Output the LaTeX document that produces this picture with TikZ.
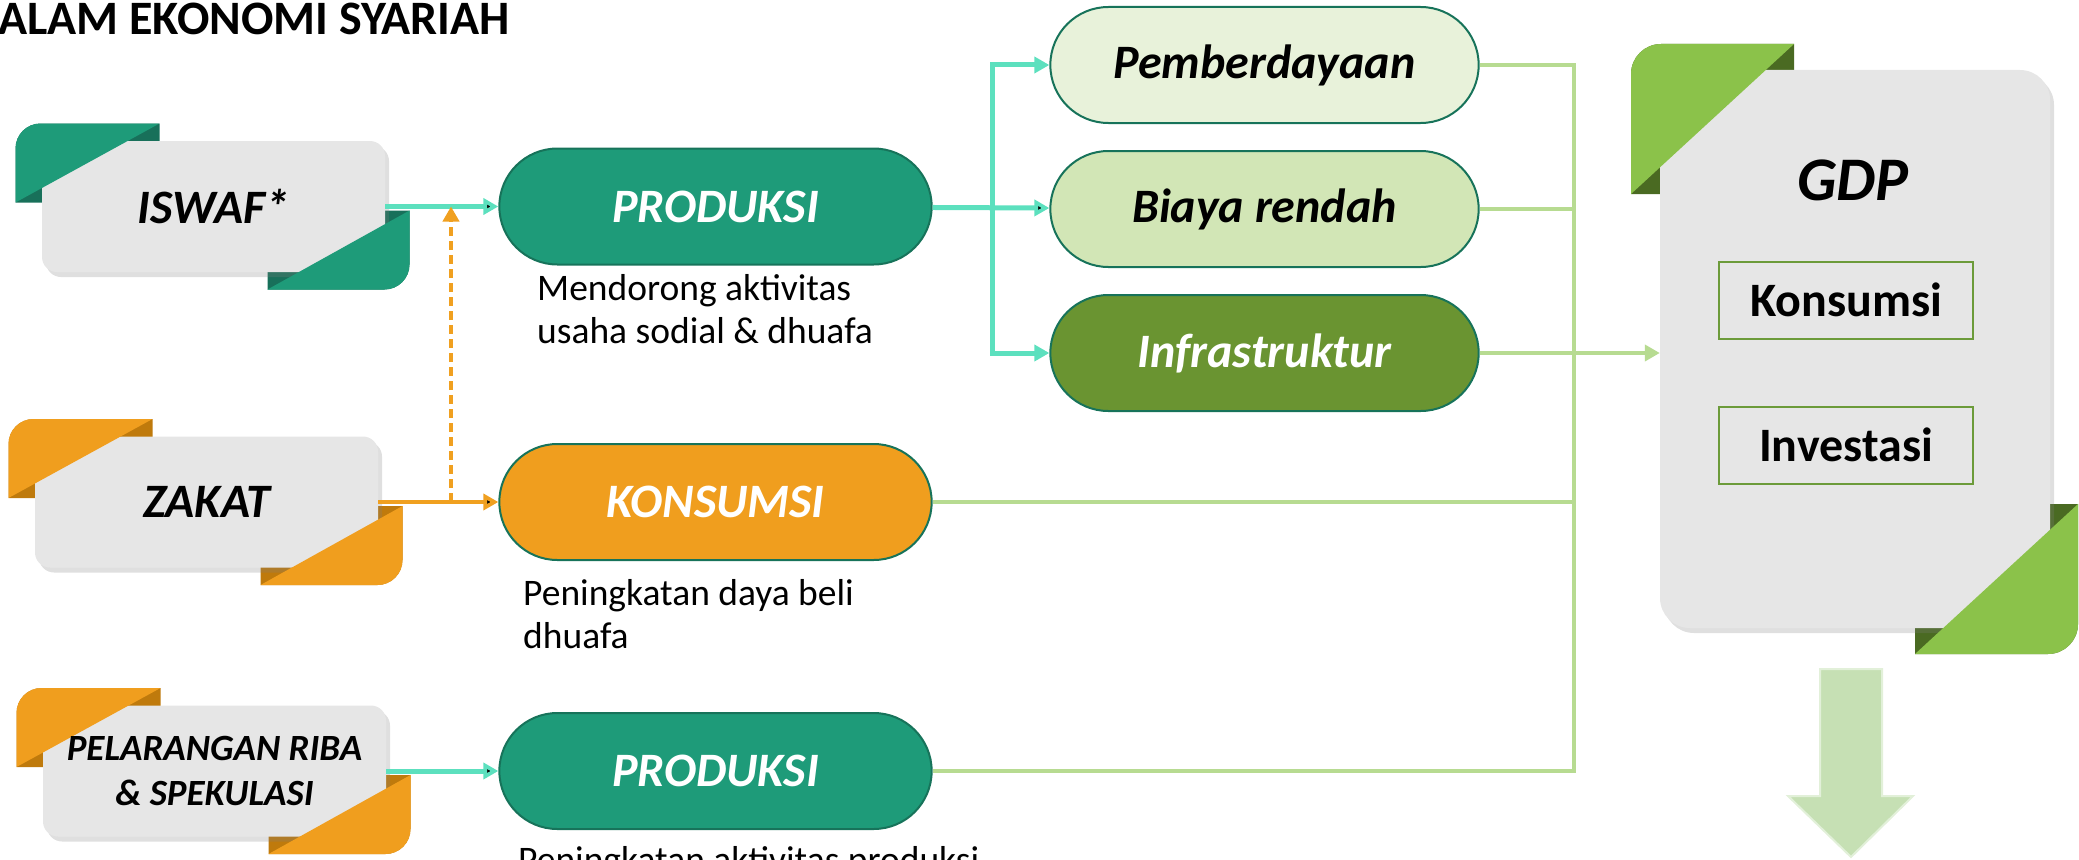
\documentclass[tikz,border=0pt]{standalone}
\usepackage{fontspec}
\setmainfont{Carlito}
\usetikzlibrary{arrows.meta,positioning,shapes.misc,shadows}

\definecolor{tealfill}{HTML}{1E9B79}
\definecolor{tealdark}{HTML}{18705A}
\definecolor{tealedge}{HTML}{17735A}
\definecolor{orangefill}{HTML}{F09E1E}
\definecolor{orangedark}{HTML}{BF7A0C}
\definecolor{limefill}{HTML}{8BC24A}
\definecolor{limedark}{HTML}{4A6A22}
\definecolor{boxgray}{HTML}{E6E6E6}
\definecolor{paleone}{HTML}{E8F2DA}
\definecolor{paletwo}{HTML}{D2E6B6}
\definecolor{infragreen}{HTML}{6A9431}
\definecolor{linkteal}{HTML}{5CE0BE}
\definecolor{linkorange}{HTML}{F0A020}
\definecolor{linkgreen}{HTML}{B7DB91}
\definecolor{arrowgreen}{HTML}{C6E0B4}
\definecolor{arrowedge}{HTML}{E2F0D9}
\definecolor{itemedge}{HTML}{6C9B3A}

% gray box with two folded tabs: [label opts], name, x, y, text, light, dark
\newcommand{\ribbonbox}[7][]{%
  \begin{scope}[shift={(#3,#4)}]
    \fill[#7] (-198,-4) -- (-198,-58) arc[start angle=180,end angle=90,radius=25pt]
      -- (-54,-83) -- (-54,-4) -- cycle;
    \fill[#7] (54,4) -- (196,4) -- (196,58) arc[start angle=0,end angle=-90,radius=25pt]
      -- (54,83) -- cycle;
    \node[ribbon node] (#2) at (0,0) {};
    \fill[#6] (-198,-4) -- (-198,-58) arc[start angle=180,end angle=90,radius=25pt]
      -- (-54,-83) -- cycle;
    \fill[#6] (196,4) -- (196,58) arc[start angle=0,end angle=-90,radius=25pt]
      -- (54,83) -- cycle;
    \node[ribbon text,#1] (#2-label) at (0,0) {#5};
  \end{scope}}

\begin{document}
\begin{tikzpicture}[x=1pt,y=-1pt,>={Triangle[length=15pt,width=16pt]},
    ribbon node/.style={rectangle,rounded corners=15pt,fill=boxgray,inner sep=0pt,
      minimum width=343pt,minimum height=131pt,
      drop shadow={shadow xshift=4pt,shadow yshift=-5pt,opacity=.25}},
    ribbon text/.style={align=center,inner sep=0pt,font=\fontsize{48}{50}\selectfont\bfseries\itshape},
    pill node/.style={rounded rectangle,draw=tealedge,line width=2pt,minimum width=439pt,
      minimum height=116pt,font=\fontsize{48}{50}\selectfont\bfseries\itshape},
    desc node/.style={anchor=base west,align=left,inner sep=0pt,font=\fontsize{37.5}{43}\selectfont},
    gdp item/.style={draw=itemedge,line width=2pt,minimum width=254pt,minimum height=77pt,
      font=\fontsize{48}{50}\selectfont\bfseries},
    teal line/.style={->,draw=linkteal,line width=5pt},
    orange line/.style={->,draw=linkorange,line width=4pt},
    green line/.style={draw=linkgreen,line width=4pt}]

  \useasboundingbox (0,0) rectangle (2079,859);
  \clip (0,0) rectangle (2079,859);

  \node[anchor=base west,inner sep=0pt,font=\fontsize{48}{50}\selectfont\bfseries]
    (title) at (-2,35) {ALAM EKONOMI SYARIAH};

  \ribbonbox{iswaf}{213.5}{206.5}{ISWAF*}{tealfill}{tealdark}
  \ribbonbox{zakat}{206.5}{502}{ZAKAT}{orangefill}{orangedark}
  \ribbonbox[font=\fontsize{37}{45}\selectfont\bfseries\itshape]{riba}{214.5}{771}
    {PELARANGAN RIBA\\\& SPEKULASI}{orangefill}{orangedark}

  \node[pill node,fill=tealfill,text=white] (prod1) at (715.5,206.5) {PRODUKSI};
  \node[pill node,fill=orangefill,text=white] (kons) at (715.5,502) {KONSUMSI};
  \node[pill node,fill=tealfill,text=white] (prod2) at (715.5,771) {PRODUKSI};

  \node[desc node] (prod1note) at (537,343) {Mendorong aktivitas\\usaha sodial \& dhuafa};
  \node[desc node] (konsnote) at (523,648) {Peningkatan daya beli\\dhuafa};
  \node[desc node] (prod2note) at (518,872) {Peningkatan aktivitas produksi};

  \node[pill node,fill=paleone,minimum width=435pt] (pember) at (1264.5,65) {Pemberdayaan};
  \node[pill node,fill=paletwo,minimum width=435pt] (biaya) [below=26pt of pember] {Biaya rendah};
  \node[pill node,fill=infragreen,minimum width=435pt,text=white] (infra) [below=26pt of biaya] {Infrastruktur};

  % GDP box
  \begin{scope}[shift={(1855,349)}]
    \fill[limedark] (-224,-155) -- (-224,-275) arc[start angle=180,end angle=90,radius=30pt]
      -- (-61,-305) -- (-61,-155) -- cycle;
    \fill[limedark] (60,155) -- (223,155) -- (223,275) arc[start angle=0,end angle=-90,radius=30pt]
      -- (60,305) -- cycle;
    \node[ribbon node,rounded corners=30pt,minimum width=390pt,minimum height=558pt] (gdp) at (0,0) {};
    \fill[limefill] (-224,-155) -- (-224,-275) arc[start angle=180,end angle=90,radius=30pt]
      -- (-61,-305) -- cycle;
    \fill[limefill] (223,155) -- (223,275) arc[start angle=0,end angle=-90,radius=30pt]
      -- (60,305) -- cycle;
  \end{scope}
  \node[font=\fontsize{62}{70}\selectfont\bfseries\itshape] (gdptitle) at (1853,180) {GDP};
  \node[gdp item] (gdpcons) at (1846,300) {Konsumsi};
  \node[gdp item] (gdpinv) [below=66pt of gdpcons] {Investasi};

  \draw[fill=arrowgreen,draw=arrowedge,line width=2pt] (1820,669) -- (1882,669) -- (1882,796)
    -- (1913,796) -- (1851,857) -- (1788,796) -- (1820,796) -- cycle;

  % connectors
  \coordinate (lift) at (451,502);
  \coordinate (fork) at (992,206.5);
  \coordinate (bus) at (1574,349);

  \path[teal line]
    (iswaf) edge (prod1)
    (prod1) edge (biaya)
    (riba) edge (prod2);
  \draw[teal line] (fork) |- (pember.west);
  \draw[teal line] (fork) |- (infra.west);
  \path[orange line] (zakat) edge (kons);
  \draw[orange line,dash pattern=on 9pt off 5pt] (lift) -- (lift |- prod1.west);

  \draw[green line] (pember.east) -| (bus) (biaya.east) -| (bus)
    (kons.east) -| (bus) (prod2.east) -| (bus);
  \draw[green line,->] (infra.east) -- (infra.east -| gdp.west);
\end{tikzpicture}
\end{document}
